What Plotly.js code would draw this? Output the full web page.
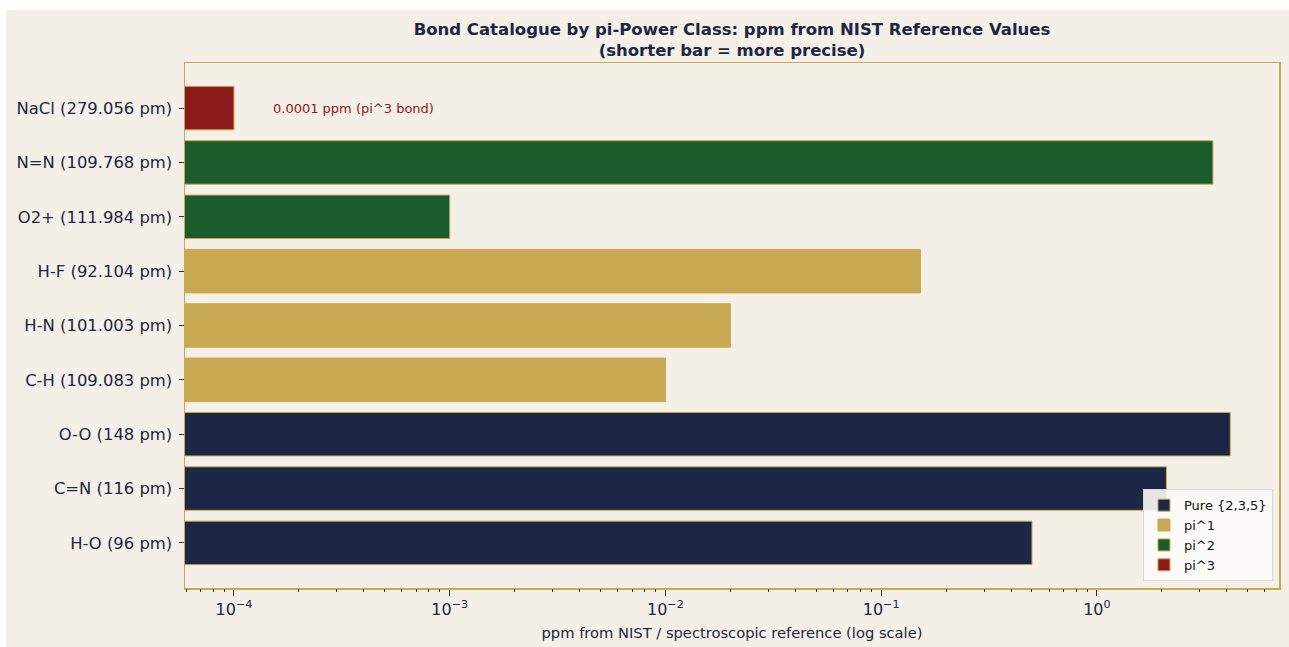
<!DOCTYPE html>
<html>
<head>
<meta charset="utf-8">
<script src="https://cdn.plot.ly/plotly-3.0.1.min.js"></script>
<style>
  html, body { margin: 0; padding: 0; background: #ffffff; }
  #chart { position: absolute; left: 6px; top: 10px; width: 1283px; height: 637px; }
</style>
</head>
<body>
<div id="chart"></div>
<script>
// Bond labels, bottom to top
const bonds = ["H-O (96 pm)", "C=N (116 pm)", "O-O (148 pm)", "C-H (109.083 pm)", "H-N (101.003 pm)",
               "H-F (92.104 pm)", "O2+ (111.984 pm)", "N=N (109.768 pm)", "NaCl (279.056 pm)"];

// Classes
const pureBonds = ["H-O (96 pm)", "C=N (116 pm)", "O-O (148 pm)"];
const pureValues = [0.5, 2.1, 4.15];

const pi1Bonds = ["C-H (109.083 pm)", "H-N (101.003 pm)", "H-F (92.104 pm)"];
const pi1Values = [0.01, 0.02, 0.152];

const pi2Bonds = ["O2+ (111.984 pm)", "N=N (109.768 pm)"];
const pi2Values = [0.001, 3.45];

const pi3Bonds = ["NaCl (279.056 pm)"];
const pi3Values = [0.0001];

const majorTicks = [1e-4, 1e-3, 1e-2, 1e-1, 1];
const majorLabels = ["10<sup>−4</sup>", "10<sup>−3</sup>", "10<sup>−2</sup>", "10<sup>−1</sup>", "10<sup>0</sup>"];

const minorTicks = [];
for (let e = -5; e <= 0; e++) {
  for (let m = 2; m <= 9; m++) minorTicks.push(m * Math.pow(10, e));
}

const navy = "#1b2744", gold = "#c8a850", green = "#1b5c2d", red = "#8b1a1a";
const edge = { color: "#c8a850", width: 1 };

function barTrace(name, ys, xs, color) {
  return {
    type: "bar", orientation: "h", name: name, y: ys, x: xs, width: 0.8,
    marker: { color: color, line: edge }, hoverinfo: "x+y"
  };
}

const traces = [
  barTrace("Pure {2,3,5}", pureBonds, pureValues, navy),
  barTrace("pi^1", pi1Bonds, pi1Values, gold),
  barTrace("pi^2", pi2Bonds, pi2Values, green),
  barTrace("pi^3", pi3Bonds, pi3Values, red),
  // invisible helper trace for minor ticks axis
  { type: "scatter", x: [1e-4], y: [bonds[0]], xaxis: "x2", mode: "markers",
    marker: { opacity: 0 }, showlegend: false, hoverinfo: "skip" }
];

const xr = [-4.227, 0.844];

const layout = {
  paper_bgcolor: "#f4efe7",
  plot_bgcolor: "#f4efe7",
  margin: { l: 179, r: 10, t: 53, b: 59 },
  font: { family: "DejaVu Sans, sans-serif", color: navy },
  title: {
    text: "<b>Bond Catalogue by pi-Power Class: ppm from NIST Reference Values<br>(shorter bar = more precise)</b>",
    x: 0.5, xref: "paper", xanchor: "center",
    y: 0.961, yref: "container", yanchor: "top",
    font: { size: 16.5, color: navy, family: "DejaVu Sans, sans-serif" }
  },
  barmode: "overlay",
  bargap: 0.2,
  xaxis: {
    type: "log", range: xr,
    tickvals: majorTicks, ticktext: majorLabels,
    ticks: "outside", ticklen: 6, tickwidth: 1, tickcolor: "#333333",
    tickfont: { size: 16, color: navy },
    showgrid: false, zeroline: false,
    showline: true, linecolor: gold, linewidth: 1.5, mirror: true,
    title: { text: "ppm from NIST / spectroscopic reference (log scale)", font: { size: 14.7, color: navy }, standoff: 10 }
  },
  xaxis2: {
    type: "log", range: xr, overlaying: "x", side: "bottom",
    tickvals: minorTicks, showticklabels: false,
    ticks: "outside", ticklen: 3, tickwidth: 1, tickcolor: "#333333",
    showgrid: false, zeroline: false, showline: false
  },
  yaxis: {
    type: "category", categoryorder: "array", categoryarray: bonds,
    range: [-0.83, 8.83],
    ticks: "outside", ticklen: 5, tickwidth: 1, tickcolor: "#333333",
    tickfont: { size: 16.4, color: navy },
    showgrid: false, zeroline: false,
    showline: true, linecolor: gold, linewidth: 1.5, mirror: true,
    ticklabelstandoff: 3
  },
  legend: {
    x: 0.9945, xanchor: "right", y: 0.013, yanchor: "bottom",
    bgcolor: "rgba(252,251,248,0.9)", bordercolor: "#d8d8d8", borderwidth: 1,
    font: { size: 13, color: "#111111" }, traceorder: "normal",
    itemwidth: 30
  },
  annotations: [{
    x: Math.log10(1.48e-4), y: pi3Bonds[0], xref: "x", yref: "y",
    text: "0.0001 ppm (pi^3 bond)", showarrow: false, xanchor: "left",
    font: { size: 13, color: red }
  }]
};

Plotly.newPlot("chart", traces, layout, { displayModeBar: false, staticPlot: true });
</script>
</body>
</html>
